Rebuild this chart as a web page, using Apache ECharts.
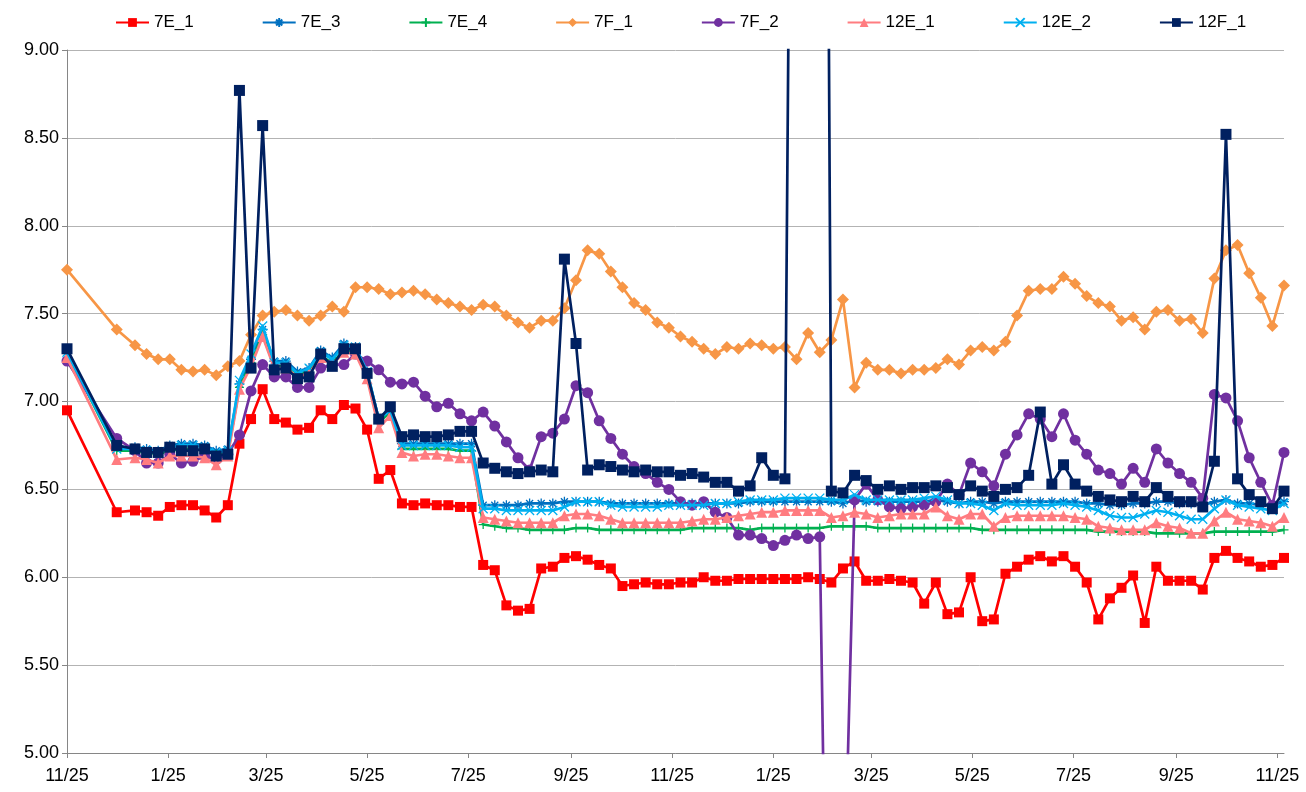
<!DOCTYPE html>
<html><head><meta charset="utf-8">
<script src="https://cdn.jsdelivr.net/npm/echarts@6/dist/echarts.min.js"></script>
<style>html,body{margin:0;padding:0;background:#fff}#c{width:1306px;height:792px}</style>
</head><body><div id="c"></div>
<script>
const dates = ['2013-11-25','2013-12-25',
'2014-01-05','2014-01-12','2014-01-19','2014-01-26','2014-02-02','2014-02-09','2014-02-16','2014-02-23','2014-03-02','2014-03-09',
'2014-03-16','2014-03-23','2014-03-30','2014-04-06','2014-04-13','2014-04-20','2014-04-27','2014-05-04','2014-05-11','2014-05-18',
'2014-05-25','2014-06-01','2014-06-08','2014-06-15','2014-06-22','2014-06-29','2014-07-06','2014-07-13','2014-07-20','2014-07-27',
'2014-08-03','2014-08-10','2014-08-17','2014-08-24','2014-08-31','2014-09-07','2014-09-14','2014-09-21','2014-09-28','2014-10-05',
'2014-10-12','2014-10-19','2014-10-26','2014-11-02','2014-11-09','2014-11-16','2014-11-23','2014-11-30','2014-12-07','2014-12-14',
'2014-12-21','2014-12-28','2015-01-04','2015-01-11','2015-01-18','2015-01-25','2015-02-01','2015-02-08','2015-02-15','2015-02-22',
'2015-03-01','2015-03-08','2015-03-15','2015-03-22','2015-03-29','2015-04-05','2015-04-12','2015-04-19','2015-04-26','2015-05-03',
'2015-05-10','2015-05-17','2015-05-24','2015-05-31','2015-06-07','2015-06-14','2015-06-21','2015-06-28','2015-07-05','2015-07-12',
'2015-07-19','2015-07-26','2015-08-02','2015-08-09','2015-08-16','2015-08-23','2015-08-30','2015-09-06','2015-09-13','2015-09-20',
'2015-09-27','2015-10-04','2015-10-11','2015-10-18','2015-10-25','2015-11-01','2015-11-08','2015-11-15','2015-11-22','2015-11-29'];

const xTickDates = ['2013-11-25','2014-01-25','2014-03-25','2014-05-25','2014-07-25','2014-09-25','2014-11-25',
'2015-01-25','2015-03-25','2015-05-25','2015-07-25','2015-09-25','2015-11-25'];

const seriesNames = ['7E_1','7E_3','7E_4','7F_1','7F_2','12E_1','12E_2','12F_1'];

const s7E_1 = [6.95,6.37,
6.38,6.37,6.35,6.40,6.41,6.41,6.38,6.34,6.41,6.76,
6.90,7.07,6.90,6.88,6.84,6.85,6.95,6.90,6.98,6.96,
6.84,6.56,6.61,6.42,6.41,6.42,6.41,6.41,6.40,6.40,
6.07,6.04,5.84,5.81,5.82,6.05,6.06,6.11,6.12,6.10,
6.07,6.05,5.95,5.96,5.97,5.96,5.96,5.97,5.97,6.00,
5.98,5.98,5.99,5.99,5.99,5.99,5.99,5.99,6.00,5.99,
5.97,6.05,6.09,5.98,5.98,5.99,5.98,5.97,5.85,5.97,
5.79,5.80,6.00,5.75,5.76,6.02,6.06,6.10,6.12,6.09,
6.12,6.06,5.97,5.76,5.88,5.94,6.01,5.74,6.06,5.98,
5.98,5.98,5.93,6.11,6.15,6.11,6.09,6.06,6.07,6.11];

const s7E_3 = [7.29,6.74,
6.74,6.73,6.72,6.75,6.76,6.76,6.75,6.72,6.73,7.10,
7.24,7.41,7.23,7.23,7.17,7.19,7.29,7.25,7.33,7.31,
7.17,6.90,6.95,6.76,6.76,6.76,6.76,6.76,6.76,6.76,
6.41,6.41,6.41,6.41,6.42,6.42,6.42,6.43,6.43,6.43,
6.43,6.42,6.42,6.42,6.42,6.42,6.42,6.42,6.42,6.42,
6.42,6.42,6.42,6.43,6.43,6.43,6.43,6.43,6.43,6.43,
6.43,6.42,6.44,6.43,6.43,6.43,6.43,6.43,6.43,6.44,
6.43,6.42,6.43,6.43,6.42,6.43,6.43,6.43,6.43,6.43,
6.43,6.43,6.42,6.42,6.41,6.41,6.42,6.42,6.43,6.43,
6.42,6.42,6.41,6.43,6.44,6.42,6.42,6.41,6.41,6.43];

const s7E_4 = [7.28,6.72,
6.72,6.71,6.70,6.72,6.73,6.73,6.72,6.70,6.71,7.08,
7.22,7.38,7.20,7.20,7.15,7.17,7.26,7.22,7.29,7.29,
7.15,6.88,6.94,6.73,6.73,6.73,6.73,6.73,6.72,6.72,
6.30,6.29,6.28,6.28,6.27,6.27,6.27,6.27,6.28,6.28,
6.27,6.27,6.27,6.27,6.27,6.27,6.27,6.27,6.28,6.28,
6.28,6.28,6.28,6.27,6.28,6.28,6.28,6.28,6.28,6.28,
6.29,6.29,6.29,6.29,6.28,6.28,6.28,6.28,6.28,6.28,
6.28,6.28,6.28,6.27,6.27,6.27,6.27,6.27,6.27,6.27,
6.27,6.27,6.27,6.26,6.26,6.26,6.26,6.26,6.25,6.25,
6.25,6.25,6.25,6.26,6.26,6.26,6.26,6.26,6.26,6.27];

const s7F_1 = [7.75,7.41,
7.32,7.27,7.24,7.24,7.18,7.17,7.18,7.15,7.20,7.23,
7.38,7.49,7.51,7.52,7.49,7.46,7.49,7.54,7.51,7.65,
7.65,7.64,7.61,7.62,7.63,7.61,7.58,7.56,7.54,7.52,
7.55,7.54,7.49,7.45,7.42,7.46,7.46,7.53,7.69,7.86,
7.84,7.74,7.65,7.56,7.52,7.45,7.42,7.37,7.34,7.30,
7.27,7.31,7.30,7.33,7.32,7.30,7.31,7.24,7.39,7.28,
7.35,7.58,7.08,7.22,7.18,7.18,7.16,7.18,7.18,7.19,
7.24,7.21,7.29,7.31,7.29,7.34,7.49,7.63,7.64,7.64,
7.71,7.67,7.60,7.56,7.54,7.46,7.48,7.41,7.51,7.52,
7.46,7.47,7.39,7.70,7.86,7.89,7.73,7.59,7.43,7.66];

const s7F_2 = [7.23,6.79,
6.72,6.65,6.65,6.70,6.65,6.66,6.69,6.67,6.70,6.81,
7.06,7.21,7.14,7.14,7.08,7.08,7.19,7.21,7.21,7.27,
7.23,7.18,7.11,7.10,7.11,7.03,6.97,6.99,6.93,6.89,
6.94,6.86,6.77,6.68,6.61,6.80,6.82,6.90,7.09,7.05,
6.89,6.79,6.70,6.63,6.59,6.54,6.50,6.43,6.41,6.43,
6.37,6.34,6.24,6.24,6.22,6.18,6.21,6.24,6.22,6.23,
1.90,3.90,6.44,6.53,6.44,6.40,6.39,6.40,6.41,6.43,
6.53,6.47,6.65,6.60,6.52,6.70,6.81,6.93,6.90,6.80,
6.93,6.78,6.70,6.61,6.59,6.53,6.62,6.54,6.73,6.65,
6.59,6.54,6.45,7.04,7.02,6.89,6.68,6.54,6.41,6.71];

const s12E_1 = [7.25,6.67,
6.68,6.67,6.65,6.69,6.69,6.69,6.68,6.64,6.69,7.07,
7.20,7.37,7.19,7.19,7.14,7.16,7.25,7.21,7.28,7.27,
7.13,6.85,6.92,6.71,6.69,6.70,6.70,6.69,6.68,6.68,
6.34,6.33,6.32,6.31,6.31,6.31,6.31,6.35,6.36,6.36,
6.35,6.33,6.31,6.31,6.31,6.31,6.31,6.31,6.32,6.33,
6.33,6.34,6.35,6.36,6.37,6.37,6.38,6.38,6.38,6.38,
6.34,6.35,6.37,6.36,6.34,6.35,6.36,6.36,6.36,6.40,
6.35,6.33,6.36,6.36,6.29,6.34,6.35,6.35,6.35,6.35,
6.35,6.34,6.33,6.29,6.28,6.27,6.27,6.27,6.31,6.29,
6.28,6.25,6.25,6.32,6.37,6.33,6.32,6.31,6.29,6.34];

const s12E_2 = [7.28,6.73,
6.73,6.72,6.71,6.74,6.75,6.75,6.74,6.71,6.72,7.12,
7.27,7.43,7.22,7.22,7.16,7.19,7.28,7.24,7.32,7.31,
7.17,6.90,6.95,6.75,6.75,6.75,6.75,6.75,6.74,6.74,
6.39,6.39,6.38,6.38,6.38,6.38,6.38,6.40,6.43,6.43,
6.43,6.41,6.40,6.40,6.40,6.40,6.41,6.41,6.41,6.41,
6.42,6.42,6.43,6.44,6.44,6.44,6.45,6.45,6.45,6.45,
6.44,6.44,6.47,6.44,6.44,6.44,6.44,6.44,6.45,6.46,
6.44,6.42,6.42,6.41,6.38,6.42,6.41,6.41,6.41,6.41,
6.42,6.41,6.40,6.38,6.35,6.34,6.34,6.36,6.38,6.37,
6.35,6.33,6.33,6.39,6.44,6.41,6.40,6.39,6.38,6.42];

const s12F_1 = [7.30,6.75,
6.73,6.71,6.71,6.74,6.72,6.72,6.73,6.69,6.70,8.77,
7.19,8.57,7.18,7.19,7.13,7.14,7.27,7.20,7.30,7.30,
7.16,6.90,6.97,6.80,6.81,6.80,6.80,6.81,6.83,6.83,
6.65,6.62,6.60,6.59,6.60,6.61,6.60,7.81,7.33,6.61,
6.64,6.63,6.61,6.60,6.61,6.60,6.60,6.58,6.59,6.57,
6.54,6.54,6.49,6.52,6.68,6.58,6.56,15.0,17.0,18.5,
6.49,6.48,6.58,6.55,6.50,6.52,6.50,6.51,6.51,6.52,
6.51,6.47,6.52,6.49,6.46,6.50,6.51,6.58,6.94,6.53,
6.64,6.53,6.49,6.46,6.44,6.43,6.46,6.43,6.51,6.46,
6.43,6.43,6.40,6.66,8.52,6.56,6.47,6.43,6.39,6.49];

const FONT = '"Liberation Sans", Arial, sans-serif';
const DAY = 86400000;
function toTs(s){ const p = s.split('-').map(Number); return Date.UTC(p[0], p[1]-1, p[2]); }
const t0 = toTs(dates[0]);
function dayOf(s){ return Math.round((toTs(s) - t0) / DAY); }
const xDays = dates.map(dayOf);
const xTicks = xTickDates.map(dayOf);
function dayLabel(v){ const d = new Date(t0 + Math.round(v) * DAY); return (d.getUTCMonth() + 1) + '/' + d.getUTCDate(); }

const PLUS = 'path://M5 0L5 10M0 5L10 5';
const STAR = 'path://M5 0L5 10M0 5L10 5M1.5 1.5L8.5 8.5M8.5 1.5L1.5 8.5';
const XMARK = 'path://M0 0L10 10M10 0L0 10';

const styles = [
  {color:'#FF0000', symbol:'rect', size:10},
  {color:'#0070C0', symbol:STAR, size:10, stroke:true},
  {color:'#00B050', symbol:PLUS, size:9, stroke:true},
  {color:'#F79646', symbol:'diamond', size:12},
  {color:'#7030A0', symbol:'circle', size:11},
  {color:'#FF7C80', symbol:'triangle', size:11},
  {color:'#00B0F0', symbol:XMARK, size:9, stroke:true},
  {color:'#002060', symbol:'rect', size:11}
];
const values = [s7E_1, s7E_3, s7E_4, s7F_1, s7F_2, s12E_1, s12E_2, s12F_1];

const series = seriesNames.map((name, i) => {
  const st = styles[i];
  return {
    name: name,
    type: 'line',
    data: xDays.map((x, j) => [x, values[i][j]]),
    symbol: st.symbol,
    symbolSize: st.size,
    showSymbol: true,
    showAllSymbol: true,
    clip: true,
    z: 2 + i,
    lineStyle: {color: st.color, width: 2.7},
    itemStyle: st.stroke ? {color: st.color, borderColor: st.color, borderWidth: 1.3} : {color: st.color, borderWidth: 0},
    emphasis: {disabled: true}
  };
});

const chart = echarts.init(document.getElementById('c'), null, {renderer: 'canvas'});
chart.setOption({
  animation: false,
  backgroundColor: '#ffffff',
  textStyle: {fontFamily: FONT},
  legend: {
    top: 9, left: 110, itemWidth: 33, itemHeight: 11, itemGap: 68,
    textStyle: {fontSize: 17, color: '#000', fontFamily: FONT},
    data: seriesNames
  },
  grid: {left: 67, right: 22, top: 50, bottom: 39, containLabel: false, outerBoundsMode: 'none'},
  xAxis: {
    type: 'value',
    min: xDays[0],
    max: xDays[xDays.length - 1],
    splitLine: {show: false},
    axisLine: {show: true, onZero: false, lineStyle: {color: '#868686', width: 1}},
    axisTick: {show: true, customValues: xTicks, length: 5, lineStyle: {color: '#868686'}},
    axisLabel: {
      customValues: xTicks,
      formatter: dayLabel,
      color: '#000', fontSize: 18, margin: 14, fontFamily: FONT
    }
  },
  yAxis: {
    type: 'value', min: 5, max: 9, interval: 0.5,
    axisLine: {show: true, lineStyle: {color: '#868686', width: 1}},
    axisTick: {show: true, length: 5, lineStyle: {color: '#868686'}},
    splitLine: {show: true, lineStyle: {color: '#b3b3b3', width: 1}},
    axisLabel: {formatter: function (v) { return v.toFixed(2); }, color: '#000', fontSize: 18, margin: 8, fontFamily: FONT}
  },
  series: series
});
</script>
</body></html>
